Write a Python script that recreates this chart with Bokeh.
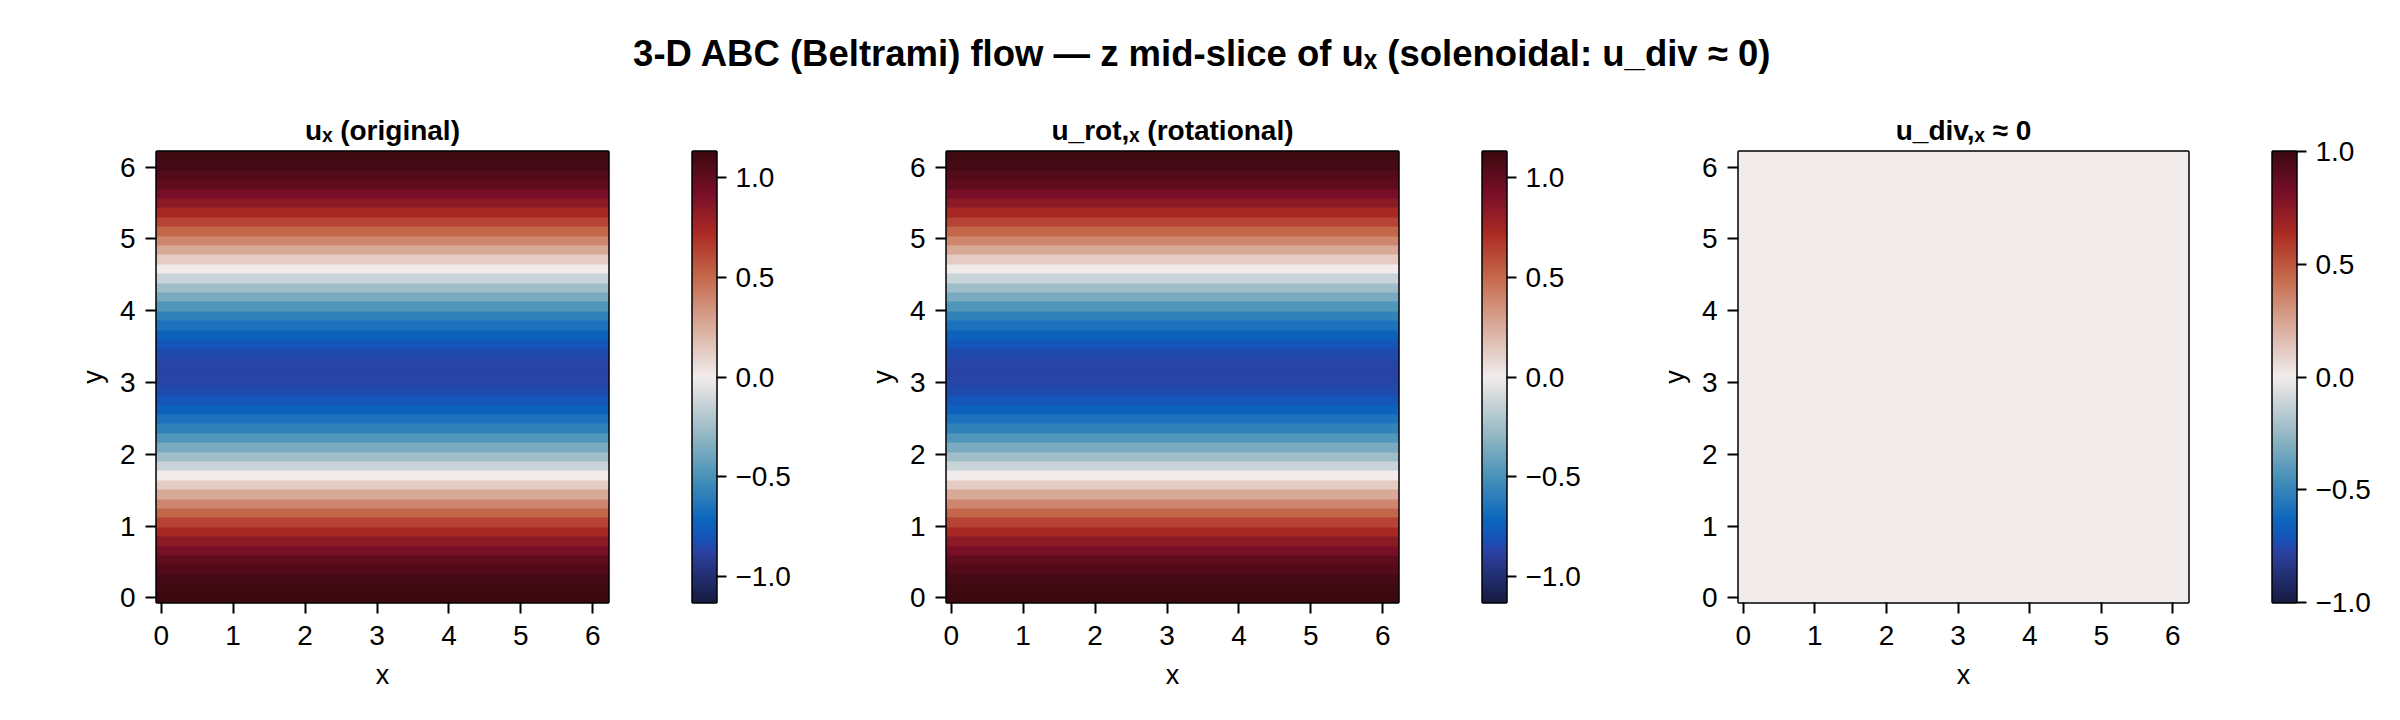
from bokeh.plotting import figure
from bokeh.layouts import column, row
from bokeh.models import LinearColorMapper, FixedTicker, Range1d
from bokeh.core.properties import value
from bokeh.embed import file_html
from bokeh.resources import INLINE
import numpy as np

FONT = "Liberation Sans"
TITLE = "3-D ABC (Beltrami) flow — z mid-slice of uₓ  (solenoidal: u_div ≈ 0)"
panel_titles = ["uₓ (original)", "u_rot,ₓ (rotational)", "u_div,ₓ ≈ 0"]
axis_ticks = [0, 1, 2, 3, 4, 5, 6]
cbar_ticks = [-1.0, -0.5, 0.0, 0.5, 1.0]
cbar_labels = {-1.0: "−1.0", -0.5: "−0.5", 0.0: "0.0", 0.5: "0.5", 1.0: "1.0"}

grid_step = 0.1309
grid_size = 48

# u_x along y, bottom row first (48 cells); no visible change along x
u_x_rows = [1.13, 1.12, 1.10, 1.05, 1.00, 0.92, 0.84, 0.74, 0.63, 0.51, 0.39, 0.26,
            0.13, 0.00, -0.13, -0.25, -0.37, -0.48, -0.58, -0.66, -0.74, -0.79, -0.84, -0.86,
            -0.87, -0.86, -0.84, -0.79, -0.74, -0.66, -0.58, -0.48, -0.37, -0.25, -0.13, 0.00,
            0.13, 0.26, 0.39, 0.51, 0.63, 0.74, 0.84, 0.92, 1.00, 1.05, 1.10, 1.12]
u_rot_rows = list(u_x_rows)
u_div_rows = [0.0] * 48
limits = [1.13, 1.13, 1.0]

stops = [(23, 28, 66), (41, 58, 143), (41, 68, 166), (22, 82, 185), (11, 102, 189), (69, 144, 185),
         (142, 181, 194), (210, 216, 219), (241, 236, 236), (230, 210, 204), (213, 157, 137), (196, 101, 72),
         (172, 43, 36), (120, 14, 40), (60, 9, 17)]
pos = [0, 1/11, 0.115, 0.14, 2/11, 3/11, 4/11, 5/11, 0.5, 6/11, 7/11, 8/11, 9/11, 10/11, 1]
t = np.linspace(0, 1, 256)
chan = [np.interp(t, pos, [s[i] for s in stops]) for i in range(3)]
palette = ["#%02x%02x%02x" % (int(round(r)), int(round(g)), int(round(b))) for r, g, b in zip(*chan)]

HEAD = 80
ROW_H = 632
TOP = 151 - HEAD
FRAME_H = 451
BOTTOM = ROW_H - TOP - FRAME_H
EDGE = 2.5


def style_axis(ax, tick_len):
    ax.axis_line_color = None
    ax.major_tick_in = 0
    ax.major_tick_out = tick_len
    ax.major_tick_line_width = 2
    ax.major_tick_line_color = "black"
    ax.minor_tick_line_color = None
    ax.major_label_text_font = FONT
    ax.major_label_text_font_size = "28px"
    ax.major_label_text_color = "black"


def panel(rows, title, limit, left, frame_w):
    lo = -grid_step / 2
    hi = grid_step * (grid_size - 0.5)
    p = figure(width=left + frame_w + 10, height=ROW_H, output_backend="svg", toolbar_location=None,
               x_range=Range1d(lo, hi), y_range=Range1d(lo, hi),
               min_border_left=left, min_border_top=TOP, min_border_bottom=BOTTOM, min_border_right=10)
    p.grid.visible = False
    mapper = LinearColorMapper(palette=palette, low=-limit, high=limit)
    img = np.tile(np.array(rows), (grid_size, 1)).T
    p.image(image=[img], x=lo, y=lo, dw=hi - lo, dh=hi - lo, color_mapper=mapper)
    p.outline_line_color = "black"
    p.outline_line_width = EDGE
    p.title.text = title
    p.title.text_font = FONT
    p.title.text_font_size = "28px"
    p.title.text_font_style = "bold"
    p.title.align = "center"
    p.title.text_color = "black"
    p.title.standoff = 12
    for ax in (p.xaxis[0], p.yaxis[0]):
        ax.ticker = FixedTicker(ticks=axis_ticks)
        style_axis(ax, 11)
        ax.axis_label_text_font = FONT
        ax.axis_label_text_font_size = "27px"
        ax.axis_label_text_font_style = "normal"
        ax.axis_label_text_color = "black"
    p.xaxis[0].major_label_standoff = 12
    p.yaxis[0].major_label_standoff = 10
    p.xaxis[0].axis_label_standoff = 12
    p.yaxis[0].axis_label_standoff = 9
    p.xaxis[0].axis_label = "x"
    p.yaxis[0].axis_label = "y"
    return p


def colorbar(limit, left, right):
    c = figure(width=left + 24 + right, height=ROW_H, output_backend="svg", toolbar_location=None,
               x_range=Range1d(0, 1), y_range=Range1d(-limit, limit), y_axis_location="right",
               min_border_left=left, min_border_right=right, min_border_top=TOP, min_border_bottom=BOTTOM)
    c.grid.visible = False
    c.xaxis.visible = False
    mapper = LinearColorMapper(palette=palette, low=-limit, high=limit)
    ramp = np.linspace(-limit, limit, 256)[:, None]
    c.image(image=[ramp], x=0, y=-limit, dw=1, dh=2 * limit, color_mapper=mapper)
    c.outline_line_color = "black"
    c.outline_line_width = EDGE
    ax = c.yaxis[0]
    ax.ticker = FixedTicker(ticks=cbar_ticks)
    ax.major_label_overrides = cbar_labels
    style_axis(ax, 10)
    ax.major_label_standoff = 9
    return c


head = figure(width=2392, height=HEAD, output_backend="svg", toolbar_location=None,
              x_range=Range1d(0, 2392), y_range=Range1d(0, HEAD), min_border=0)
head.axis.visible = False
head.grid.visible = False
head.outline_line_color = None
head.text(x=[1207], y=[27], text=[TITLE], text_font=value(FONT), text_font_size="36.5px", text_font_style="bold",
          text_color="black", text_align="center", text_baseline="middle")

p1 = panel(u_x_rows, panel_titles[0], limits[0], 156, 452)
c1 = colorbar(limits[0], 74, 124)
p2 = panel(u_rot_rows, panel_titles[1], limits[1], 106, 452)
c2 = colorbar(limits[1], 74, 124)
p3 = panel(u_div_rows, panel_titles[2], limits[2], 108, 450)
c3 = colorbar(limits[2], 74, 96)
page = column(head, row(p1, c1, p2, c2, p3, c3))
open("out.html", "w").write(file_html(page, INLINE))
